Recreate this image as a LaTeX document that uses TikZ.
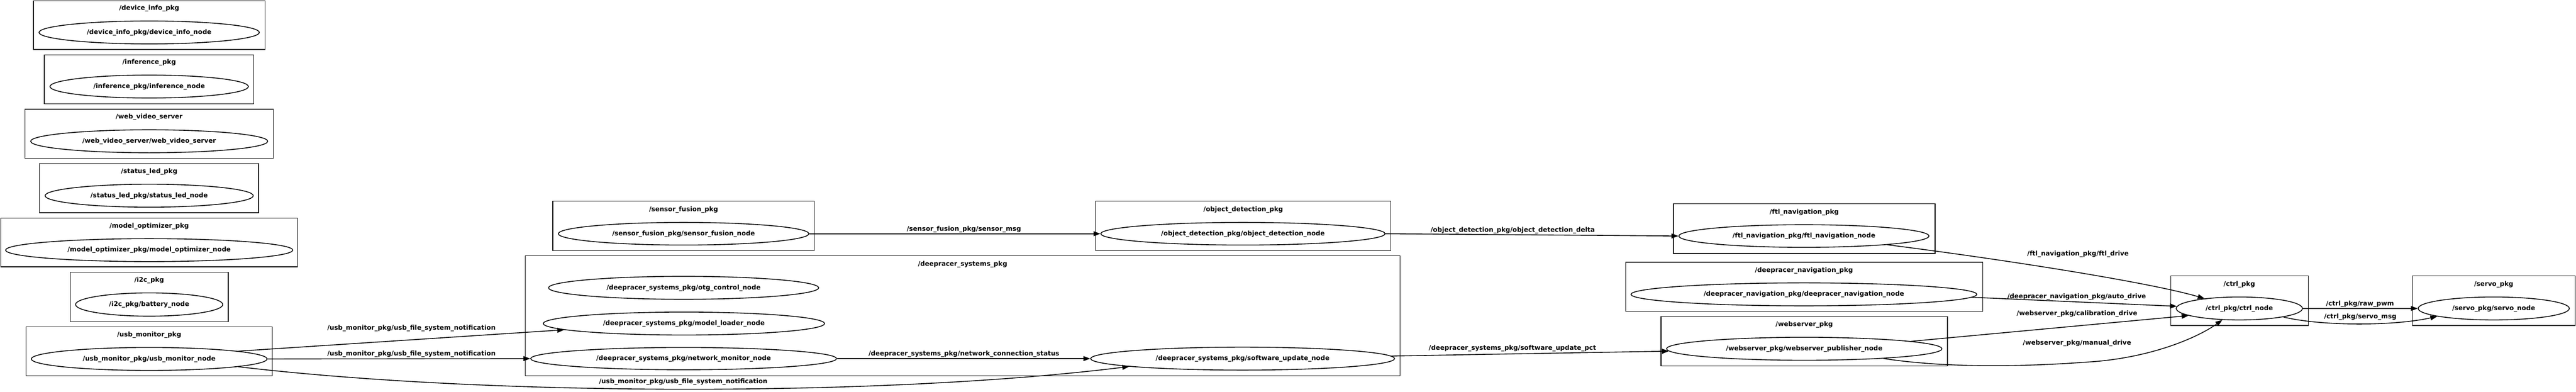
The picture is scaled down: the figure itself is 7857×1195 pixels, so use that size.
\documentclass[tikz,border=0pt]{standalone}
\usepackage{fontspec}
\setmainfont{DejaVu Sans}
\usetikzlibrary{shapes.geometric,arrows.meta}
\newcommand\lbl{\fontsize{1.97pt}{2.4pt}\selectfont\bfseries}
\tikzset{
  pkg/.style={draw, rectangle, line width=0.2pt, inner sep=0pt},
  nd/.style={draw, ellipse, line width=0.25pt, inner sep=0pt, font=\lbl, text height=1.5pt, text depth=0.46pt},
  ttl/.style={inner sep=0pt, font=\lbl, text height=1.5pt, text depth=0.46pt},
  edge/.style={line width=0.25pt, -{Triangle[length=2.1pt,width=1.5pt]}},
}
\begin{document}
\begin{tikzpicture}[x=0.1pt,y=-0.1pt]
\useasboundingbox (0,0) rectangle (7857,1195);
% ---------- package boxes ----------
\node[pkg, minimum width=70.6pt, minimum height=14.9pt] (bdev) at (455,76.5) {};
\node[pkg, minimum width=63.9pt, minimum height=15pt] (binf) at (454.5,242) {};
\node[pkg, minimum width=75.8pt, minimum height=15pt] (bwvs) at (455,408) {};
\node[pkg, minimum width=66.9pt, minimum height=15pt] (bled) at (454.5,574) {};
\node[pkg, minimum width=90.5pt, minimum height=14.9pt] (bmo) at (454.5,739.5) {};
\node[pkg, minimum width=48.2pt, minimum height=15.1pt] (bi2c) at (455,905.5) {};
\node[pkg, minimum width=75.2pt, minimum height=14.9pt] (busb) at (455,1071.5) {};
\node[pkg, minimum width=79.8pt, minimum height=15pt] (bsf) at (2085,689) {};
\node[pkg, minimum width=266.8pt, minimum height=36.6pt] (bds) at (2936,963) {};
\node[pkg, minimum width=90pt, minimum height=15pt] (bod) at (3792,689) {};
\node[pkg, minimum width=79.8pt, minimum height=15.1pt] (bftl) at (5503,697.5) {};
\node[pkg, minimum width=108.9pt, minimum height=15pt] (bnav) at (5502.5,875) {};
\node[pkg, minimum width=87.4pt, minimum height=15pt] (bws) at (5503,1041) {};
\node[pkg, minimum width=41.9pt, minimum height=15.1pt] (bctrl) at (6830.5,917.5) {};
\node[pkg, minimum width=49.6pt, minimum height=15.1pt] (bservo) at (7606,917.5) {};
% ---------- titles ----------
\node[ttl] (tdev) at (455,25) {/device\_info\_pkg};
\node[ttl] (tinf) at (455,191) {/inference\_pkg};
\node[ttl] (twvs) at (455,357) {/web\_video\_server};
\node[ttl] (tled) at (455,523) {/status\_led\_pkg};
\node[ttl] (tmo) at (455,690) {/model\_optimizer\_pkg};
\node[ttl] (ti2c) at (455,855) {/i2c\_pkg};
\node[ttl] (tusb) at (455,1021) {/usb\_monitor\_pkg};
\node[ttl] (tsf) at (2085,640) {/sensor\_fusion\_pkg};
\node[ttl] (tds) at (2936,806) {/deepracer\_systems\_pkg};
\node[ttl] (tod) at (3792,640) {/object\_detection\_pkg};
\node[ttl] (tftl) at (5503,647) {/ftl\_navigation\_pkg};
\node[ttl] (tnav) at (5502,825) {/deepracer\_navigation\_pkg};
\node[ttl] (tws) at (5503,991) {/webserver\_pkg};
\node[ttl] (tctrl) at (6830,868) {/ctrl\_pkg};
\node[ttl] (tservo) at (7606,868) {/servo\_pkg};
% ---------- ROS nodes ----------
\node[nd, minimum width=67.2pt, minimum height=7pt] (dev) at (455,99) {/device\_info\_pkg/device\_info\_node};
\node[nd, minimum width=60.5pt, minimum height=7pt] (inf) at (455,264) {/inference\_pkg/inference\_node};
\node[nd, minimum width=72.3pt, minimum height=7pt] (wvs) at (455,431) {/web\_video\_server/web\_video\_server};
\node[nd, minimum width=63.5pt, minimum height=7pt] (led) at (455,597) {/status\_led\_pkg/status\_led\_node};
\node[nd, minimum width=87.6pt, minimum height=7pt] (mo) at (455,763) {/model\_optimizer\_pkg/model\_optimizer\_node};
\node[nd, minimum width=44.9pt, minimum height=7.1pt] (i2c) at (455,929) {/i2c\_pkg/battery\_node};
\node[nd, minimum width=71.9pt, minimum height=7pt] (usb) at (455,1095) {/usb\_monitor\_pkg/usb\_monitor\_node};
\node[nd, minimum width=76.4pt, minimum height=6.9pt] (sf) at (2085,713) {/sensor\_fusion\_pkg/sensor\_fusion\_node};
\node[nd, minimum width=82.4pt, minimum height=7pt] (otg) at (2085,878) {/deepracer\_systems\_pkg/otg\_control\_node};
\node[nd, minimum width=85.8pt, minimum height=7pt] (ml) at (2086,987) {/deepracer\_systems\_pkg/model\_loader\_node};
\node[nd, minimum width=93.3pt, minimum height=6.8pt] (nm) at (2085,1094) {/deepracer\_systems\_pkg/network\_monitor\_node};
\node[nd, minimum width=92.7pt, minimum height=7pt] (su) at (3790,1094) {/deepracer\_systems\_pkg/software\_update\_node};
\node[nd, minimum width=86.7pt, minimum height=6.9pt] (od) at (3791,713) {/object\_detection\_pkg/object\_detection\_node};
\node[nd, minimum width=76.3pt, minimum height=6.9pt] (ftl) at (5502,720) {/ftl\_navigation\_pkg/ftl\_navigation\_node};
\node[nd, minimum width=105.5pt, minimum height=7pt] (nav) at (5502,898) {/deepracer\_navigation\_pkg/deepracer\_navigation\_node};
\node[nd, minimum width=84pt, minimum height=7pt] (ws) at (5503,1064) {/webserver\_pkg/webserver\_publisher\_node};
\node[nd, minimum width=38.5pt, minimum height=7pt] (ctrl) at (6830,941) {/ctrl\_pkg/ctrl\_node};
\node[nd, minimum width=46.1pt, minimum height=7pt] (servo) at (7606,941) {/servo\_pkg/servo\_node};
% ---------- connectors ----------
\draw[edge] (usb.5) -- (ml.183);
\draw[edge] (usb.east) -- (nm.west);
\draw[edge] (usb.-5) .. controls (1500,1210) and (2700,1210) .. (su.184.5);
\draw[edge] (sf.east) -- (od.west);
\draw[edge] (nm.east) -- (su.west);
\draw[edge] (od.east) -- (ftl.west);
\draw[edge] (su.1) -- (ws.181);
\draw[edge] (ftl.-6) .. controls (6100,790) and (6550,860) .. (ctrl.164);
\draw[edge] (nav.-1.8) -- (ctrl.178);
\draw[edge] (ws.4.3) -- (ctrl.188);
\draw[edge] (ws.-7.8) .. controls (5950,1125) and (6200,1118) .. (6400,1102) .. controls (6580,1085) and (6710,1025) .. (ctrl.214);
\draw[edge] (ctrl.east) -- (servo.west);
\draw[edge] (ctrl.-11) .. controls (7080,995) and (7300,995) .. (servo.188.6);
% ---------- connector labels ----------
\node[ttl] (l1) at (1255,1001) {/usb\_monitor\_pkg/usb\_file\_system\_notification};
\node[ttl] (l2) at (1255,1080) {/usb\_monitor\_pkg/usb\_file\_system\_notification};
\node[ttl] (l3) at (2084,1165) {/usb\_monitor\_pkg/usb\_file\_system\_notification};
\node[ttl] (l4) at (2940,700) {/sensor\_fusion\_pkg/sensor\_msg};
\node[ttl] (l5) at (2940,1080) {/deepracer\_systems\_pkg/network\_connection\_status};
\node[ttl] (l6) at (4614,703) {/object\_detection\_pkg/object\_detection\_delta};
\node[ttl] (l7) at (4613,1063) {/deepracer\_systems\_pkg/software\_update\_pct};
\node[ttl] (l8) at (6338,775) {/ftl\_navigation\_pkg/ftl\_drive};
\node[ttl] (l9) at (6334,905) {/deepracer\_navigation\_pkg/auto\_drive};
\node[ttl] (l10) at (6335,957) {/webserver\_pkg/calibration\_drive};
\node[ttl] (l11) at (6335,1047) {/webserver\_pkg/manual\_drive};
\node[ttl] (l12) at (7198,927) {/ctrl\_pkg/raw\_pwm};
\node[ttl] (l13) at (7199,966) {/ctrl\_pkg/servo\_msg};
\end{tikzpicture}
\end{document}
